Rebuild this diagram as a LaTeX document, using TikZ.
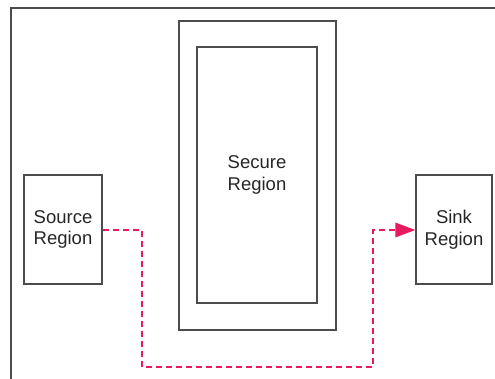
\documentclass[tikz,border=0pt]{standalone}
\usepackage{fontspec}
\setmainfont{Liberation Sans}
\usetikzlibrary{arrows.meta}
\definecolor{boxgray}{rgb}{0.30, 0.30, 0.30}
\definecolor{flowred}{rgb}{0.91, 0.10, 0.36}
\tikzset{
  region/.style={draw=boxgray, line width=1.4pt, align=center, inner sep=0pt,
    font=\fontsize{18.5}{21.5}\selectfont, text=black!85},
  leak/.style={flowred, line width=1.3pt, dash pattern=on 6pt off 4pt}
}

\begin{document}
\begin{tikzpicture}[x=1pt, y=-1pt]
  \useasboundingbox (0,0) rectangle (495,379);
  % Regions
  \node[region, minimum width=157pt, minimum height=309pt] (secureOut) at (257.5,175.5) {};
  \node[region, minimum width=120pt, minimum height=256pt] (secure) at (257,175) {Secure\\Region};
  \node[region, minimum width=78pt, minimum height=109pt] (source) at (63,229.5) {Source\\Region};
  \node[region, minimum width=76pt, minimum height=109pt] (sink) at (454,229.5) {Sink\\Region};

  % Coordinates
  \coordinate (A) at (142,230);
  \coordinate (B) at (142,367);
  \coordinate (C) at (373,367);
  \coordinate (D) at (373,230);
  \coordinate (E) at (sink.west |- D);

  % Drawing
  \draw[boxgray, line width=1.4pt] (495,8) -- (11,8) -- (11,379);
  \draw[leak] (source.east |- A) -- (A) -- (B) -- (C) -- (D) -- ([xshift=-20pt]E);
  \fill[flowred] (E) -- ++(-20,-7.5) -- ++(0,15) -- cycle;
\end{tikzpicture}
\end{document}
